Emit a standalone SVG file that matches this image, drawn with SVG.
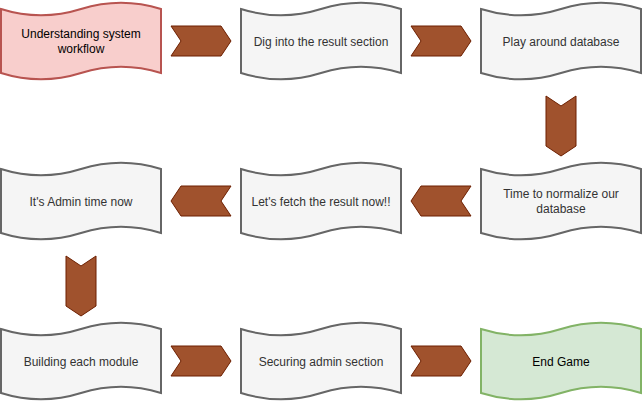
<svg xmlns="http://www.w3.org/2000/svg" xmlns:xlink="http://www.w3.org/1999/xlink" width="642" height="402" viewBox="0 0 642 402">
<style>
.tape{stroke-width:2}
.gray{fill:#f5f5f5;stroke:#666666}
.red{fill:#f8cecc;stroke:#b85450}
.green{fill:#d5e8d4;stroke:#82b366}
.lbl{font-family:"Liberation Sans",Arial,sans-serif;font-size:12px;text-anchor:middle;fill:#333333}
.dark{fill:#000000}
.chev{fill:#a0522d;stroke:#6d1f00;stroke-width:1}
</style>
<defs>
<path id="tape" d="M0,7 Q40,19.6 80,7 Q120,-5.6 160,7 L160,71 Q120,58.4 80,71 Q40,83.6 0,71 Z"/>
</defs>
<rect width="642" height="402" fill="#ffffff"/>
<g id="connectors">
<path class="chev" d="M171,26 L221,26 L231,41 L221,56 L171,56 L181,41 Z"/>
<path class="chev" d="M411,26 L461,26 L471,41 L461,56 L411,56 L421,41 Z"/>
<path class="chev" d="M546,96 L561,106 L576,96 L576,146 L561,156 L546,146 Z"/>
<path class="chev" d="M471,186 L421,186 L411,201 L421,216 L471,216 L461,201 Z"/>
<path class="chev" d="M231,186 L181,186 L171,201 L181,216 L231,216 L221,201 Z"/>
<path class="chev" d="M66,256 L81,266 L96,256 L96,306 L81,316 L66,306 Z"/>
<path class="chev" d="M171,346 L221,346 L231,361 L221,376 L171,376 L181,361 Z"/>
<path class="chev" d="M411,346 L461,346 L471,361 L461,376 L411,376 L421,361 Z"/>
</g>
<g id="n1" transform="translate(1,2)">
<use xlink:href="#tape" class="tape red"/>
<text class="lbl dark" x="80" y="36">Understanding system</text>
<text class="lbl dark" x="80" y="51">workflow</text>
</g>
<g id="n2" transform="translate(241,2)">
<use xlink:href="#tape" class="tape gray"/>
<text class="lbl" x="80" y="43.5">Dig into the result section</text>
</g>
<g id="n3" transform="translate(481,2)">
<use xlink:href="#tape" class="tape gray"/>
<text class="lbl" x="80" y="43.5">Play around database</text>
</g>
<g id="n4" transform="translate(481,162)">
<use xlink:href="#tape" class="tape gray"/>
<text class="lbl" x="80" y="36">Time to normalize our</text>
<text class="lbl" x="80" y="51">database</text>
</g>
<g id="n5" transform="translate(241,162)">
<use xlink:href="#tape" class="tape gray"/>
<text class="lbl" x="80" y="43.5">Let's fetch the result now!!</text>
</g>
<g id="n6" transform="translate(1,162)">
<use xlink:href="#tape" class="tape gray"/>
<text class="lbl" x="80" y="43.5">It's Admin time now</text>
</g>
<g id="n7" transform="translate(1,322)">
<use xlink:href="#tape" class="tape gray"/>
<text class="lbl" x="80" y="43.5">Building each module</text>
</g>
<g id="n8" transform="translate(241,322)">
<use xlink:href="#tape" class="tape gray"/>
<text class="lbl" x="80" y="43.5">Securing admin section</text>
</g>
<g id="n9" transform="translate(481,322)">
<use xlink:href="#tape" class="tape green"/>
<text class="lbl dark" x="80" y="43.5">End Game</text>
</g>
</svg>
